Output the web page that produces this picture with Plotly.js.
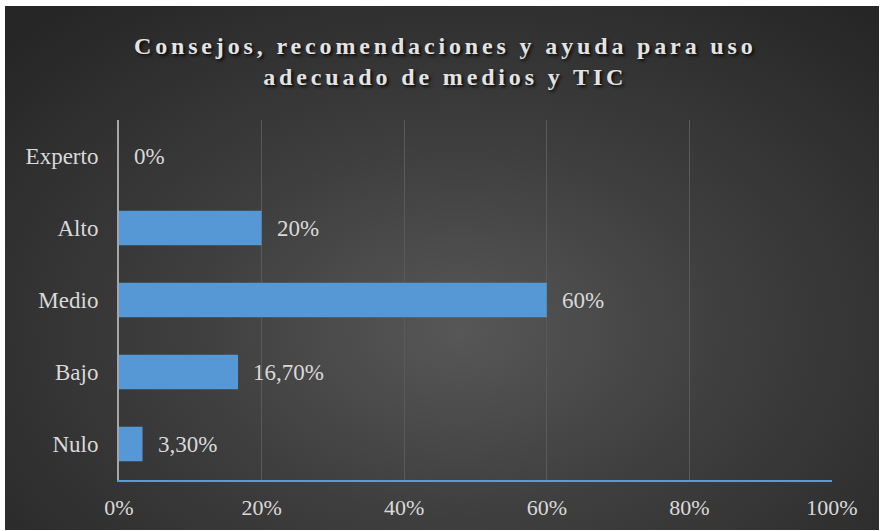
<!DOCTYPE html>
<html>
<head>
<meta charset="utf-8">
<script src="https://cdn.plot.ly/plotly-3.0.1.min.js"></script>
<style>
  html, body { margin: 0; padding: 0; background: #ffffff; }
  #wrap { position: relative; width: 880px; height: 531px; background: #ffffff; overflow: hidden; }
  #bg { position: absolute; left: 5px; top: 6px; width: 874px; height: 524px;
        background: radial-gradient(ellipse 70% 80% at 52% 62%, #575757 0%, #3e3e3e 45%, #262626 100%); }
  #chart { position: absolute; left: 0; top: 0; width: 880px; height: 531px; }
  .gtitle { letter-spacing: 3.85px; text-shadow: 2px 2px 3px rgba(0,0,0,0.8); }
</style>
</head>
<body>
<div id="wrap">
  <div id="bg"></div>
  <div id="chart"></div>
</div>
<script>
const categories = ["Experto", "Alto", "Medio", "Bajo", "Nulo"];
const values = [0, 20, 60, 16.7, 3.3];
const valueLabels = ["0%", "20%", "60%", "16,70%", "3,30%"];
const xTickValues = [0, 20, 40, 60, 80, 100];
const xTickLabels = ["0%", "20%", "40%", "60%", "80%", "100%"];
const chartTitle = "Consejos, recomendaciones y ayuda para uso<br>adecuado de medios y TIC";

const serif = "Liberation Serif, Times New Roman, serif";
const textColor = "#d9d9d9";

const trace = {
  type: "bar",
  orientation: "h",
  y: categories,
  x: values,
  width: 0.48,
  marker: { color: "#5697d6", line: { width: 0 } },
  hoverinfo: "skip"
};

const annotations = categories.map((c, i) => ({
  x: values[i], y: c, xref: "x", yref: "y",
  text: valueLabels[i], showarrow: false,
  xanchor: "left", yanchor: "middle", xshift: 13,
  font: { family: serif, size: 23, color: textColor }
}));

const layout = {
  width: 880, height: 531,
  paper_bgcolor: "rgba(0,0,0,0)",
  plot_bgcolor: "rgba(0,0,0,0)",
  margin: { l: 119, r: 48, t: 120, b: 51 },
  showlegend: false,
  title: {
    text: chartTitle,
    x: 0.506, xanchor: "center",
    y: 0.899, yanchor: "top",
    font: { family: serif, size: 24, color: "#e3e3e3", weight: "bold" }
  },
  xaxis: {
    range: [0, 100],
    tickvals: xTickValues,
    ticktext: xTickLabels,
    showgrid: true, gridcolor: "#5a5a5a", gridwidth: 1,
    zeroline: false,
    showline: true, linecolor: "#5b9bd5", linewidth: 2,
    ticks: "", ticklabelstandoff: 7,
    tickfont: { family: serif, size: 22, color: textColor },
    fixedrange: true
  },
  yaxis: {
    type: "category",
    autorange: "reversed",
    showgrid: false, zeroline: false,
    showline: true, linecolor: "#a6a6a6", linewidth: 2,
    ticks: "", ticklabelstandoff: 14,
    tickfont: { family: serif, size: 23, color: textColor },
    fixedrange: true
  },
  bargap: 0.52,
  annotations: annotations
};

Plotly.newPlot("chart", [trace], layout, { displayModeBar: false, staticPlot: true });
</script>
</body>
</html>
